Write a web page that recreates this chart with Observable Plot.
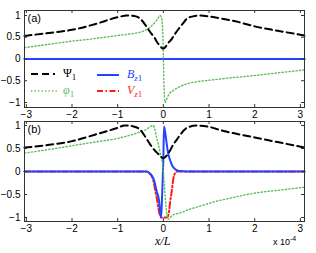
<!DOCTYPE html>
<html><head><meta charset="utf-8">
<script src="https://cdn.jsdelivr.net/npm/d3@7"></script>
<script src="https://cdn.jsdelivr.net/npm/@observablehq/plot@0.6"></script>
<style>
body{margin:0;background:#fff;}
#wrap{position:relative;width:316px;height:253px;overflow:hidden;font-family:"Liberation Sans",Arial,sans-serif;background:#fff;}
#wrap > svg{position:absolute;left:0;}
.lab{position:absolute;color:#000;white-space:nowrap;}
</style></head><body><div id="wrap"></div>
<script>
// ---- ticks ----
const xTicks = [-3, -2, -1, 0, 1, 2, 3];
const yTicks = [-1, -0.5, 0, 0.5, 1];
const yTickLabels = ["−1", "−0.5", "0", "0.5", "1"];
const xDomain = [-3.04, 3.09];

// ---- panel (a) ----
const psiA_x = [-3.04, -2.5, -2.0, -1.5, -1.0, -0.8, -0.6, -0.5, -0.36, -0.29, -0.2, -0.14, -0.07, -0.03, 0, 0.04, 0.1, 0.19, 0.27, 0.34, 0.43, 0.52, 0.65, 0.79, 1.0, 1.32, 1.6, 2.0, 2.5, 3.09];
const psiA_y = [0.53, 0.6, 0.67, 0.8, 0.96, 1.0, 0.98, 0.92, 0.73, 0.62, 0.5, 0.39, 0.3, 0.25, 0.24, 0.27, 0.36, 0.47, 0.6, 0.7, 0.82, 0.93, 0.98, 1.0, 0.98, 0.92, 0.86, 0.75, 0.65, 0.54];
const phiA_x = [-3.04, -2.5, -2.0, -1.5, -1.0, -0.7, -0.5, -0.36, -0.22, -0.14, -0.07, -0.03, 0, 0.01, 0.04, 0.08, 0.13, 0.22, 0.35, 0.52, 0.75, 1.0, 1.5, 2.0, 2.5, 3.09];
const phiA_y = [0.26, 0.34, 0.41, 0.47, 0.54, 0.58, 0.62, 0.68, 0.8, 0.9, 1.0, 0.9, 0.1, -0.5, -1.0, -0.9, -0.8, -0.72, -0.64, -0.57, -0.52, -0.49, -0.43, -0.38, -0.32, -0.25];
const bzA_x = [-3.04, 3.09];
const bzA_y = [0, 0];
const vzA_x = [-3.04, 3.09];
const vzA_y = [0, 0];

// ---- panel (b) ----
const psiB_x = [-3.04, -2.5, -2.0, -1.5, -1.0, -0.85, -0.65, -0.51, -0.4, -0.29, -0.2, -0.1, -0.04, 0, 0.05, 0.12, 0.22, 0.3, 0.37, 0.52, 0.73, 1.0, 1.32, 1.6, 2.0, 2.5, 3.09];
const psiB_y = [0.52, 0.58, 0.66, 0.8, 0.95, 1.0, 0.98, 0.91, 0.76, 0.59, 0.47, 0.37, 0.31, 0.29, 0.32, 0.41, 0.59, 0.7, 0.8, 0.95, 1.0, 0.97, 0.88, 0.82, 0.74, 0.64, 0.52];
const phiB_x = [-3.04, -2.5, -2.0, -1.5, -1.0, -0.6, -0.4, -0.22, -0.15, -0.07, 0, 0.04, 0.08, 0.11, 0.16, 0.22, 0.375, 0.55, 0.75, 1.04, 1.5, 2.07, 2.5, 3.09];
const phiB_y = [0.4, 0.48, 0.56, 0.64, 0.72, 0.83, 0.9, 1.0, 0.75, 0.41, 0, -0.55, -0.95, -1.04, -0.99, -0.94, -0.9, -0.83, -0.77, -0.68, -0.57, -0.46, -0.41, -0.34];
const bzB_x = [-3.04, -0.5, -0.36, -0.28, -0.21, -0.14, -0.1, -0.07, -0.05, -0.03, 0, 0.015, 0.04, 0.07, 0.1, 0.15, 0.2, 0.26, 0.35, 0.5, 3.09];
const bzB_y = [0, 0, 0, -0.06, -0.17, -0.45, -0.6, -0.87, -1.0, -0.6, 0.3, 0.98, 0.85, 0.63, 0.42, 0.24, 0.12, 0.05, 0.01, 0, 0];
const vzB_x = [-3.04, -0.4, -0.29, -0.21, -0.18, -0.14, -0.1, -0.08, -0.05, 0, 0.04, 0.08, 0.12, 0.15, 0.19, 0.22, 0.26, 0.3, 3.09];
const vzB_y = [0, 0, -0.05, -0.24, -0.4, -0.6, -0.85, -0.93, -1.0, -1.0, -1.0, -1.0, -0.9, -0.65, -0.38, -0.15, -0.03, 0, 0];

const cBlack = "#000", cGreen = "#5cbf55", cBlue = "#2243ff", cRed = "#ff1a1a";
const zip = (xs, ys) => xs.map((x, i) => ({x, y: ys[i]}));

function panel({top, height, mt, mb, yDomain, psi, phi, bz, vz, letter}) {
  const ml = 24, mr = 12, tl = 3;
  const ppuX = (316 - ml - mr) / (xDomain[1] - xDomain[0]);
  const ppuY = (height - mt - mb) / (yDomain[1] - yDomain[0]);
  const svg = Plot.plot({
    width: 316, height, marginLeft: ml, marginRight: mr, marginTop: mt, marginBottom: mb,
    style: {fontFamily: "Liberation Sans, Arial, sans-serif", fontSize: "10px", color: "#000", background: "transparent", overflow: "visible"},
    x: {domain: xDomain},
    y: {domain: yDomain},
    marks: [
      Plot.line(zip(...vz), {x: "x", y: "y", stroke: cRed, strokeWidth: 2, strokeDasharray: "6,2.5,1.5,2.5", curve: "monotone-x"}),
      Plot.line(zip(...bz), {x: "x", y: "y", stroke: cBlue, strokeWidth: 2, curve: "monotone-x"}),
      Plot.line(zip(...phi), {x: "x", y: "y", stroke: cGreen, strokeWidth: 1.4, strokeDasharray: "1.3,2.2", curve: "monotone-x"}),
      Plot.line(zip(...psi), {x: "x", y: "y", stroke: cBlack, strokeWidth: 2, strokeDasharray: "7,4", curve: "monotone-x"}),
      Plot.ruleX(xTicks, {x: d => d, y1: yDomain[0], y2: yDomain[0] + tl / ppuY, stroke: "#333"}),
      Plot.ruleX(xTicks, {x: d => d, y1: yDomain[1], y2: yDomain[1] - tl / ppuY, stroke: "#333"}),
      Plot.ruleY(yTicks, {y: d => d, x1: xDomain[0], x2: xDomain[0] + tl / ppuX, stroke: "#333"}),
      Plot.ruleY(yTicks, {y: d => d, x1: xDomain[1], x2: xDomain[1] - tl / ppuX, stroke: "#333"}),
      Plot.frame({stroke: "#333", strokeWidth: 1}),
      Plot.axisX(xTicks, {tickSize: 0, tickPadding: 3, label: null, tickFormat: d => d < 0 ? "−" + (-d) : String(d)}),
      Plot.axisY(yTicks, {tickSize: 0, tickPadding: 4, label: null, tickFormat: d => yTickLabels[yTicks.indexOf(d)]}),
      Plot.text([letter], {text: d => d, frameAnchor: "top-left", dx: 3, dy: 4, fontSize: 11, textAnchor: "start", lineAnchor: "top"})
    ]
  });
  svg.style.top = top + "px";
  return svg;
}

const wrap = document.getElementById("wrap");
wrap.appendChild(panel({top: 0, height: 120, mt: 10, mb: 13, yDomain: [-1.115, 1.115],
  psi: [psiA_x, psiA_y], phi: [phiA_x, phiA_y], bz: [bzA_x, bzA_y], vz: [vzA_x, vzA_y], letter: "(a)"}));
wrap.appendChild(panel({top: 118, height: 135, mt: 3, mb: 32, yDomain: [-1.087, 1.087],
  psi: [psiB_x, psiB_y], phi: [phiB_x, phiB_y], bz: [bzB_x, bzB_y], vz: [vzB_x, vzB_y], letter: "(b)"}));

// ---- legend (panel a) ----
const ns = "http://www.w3.org/2000/svg";
const leg = document.createElementNS(ns, "svg");
leg.setAttribute("width", 316); leg.setAttribute("height", 120);
leg.style.top = "0px";
leg.innerHTML = `
  <line x1="31" x2="55" y1="74" y2="74" stroke="${cBlack}" stroke-width="2" stroke-dasharray="7,4"/>
  <line x1="31" x2="57" y1="91" y2="91" stroke="${cGreen}" stroke-width="1.4" stroke-dasharray="1.3,2.2"/>
  <line x1="97" x2="119" y1="75" y2="75" stroke="${cBlue}" stroke-width="2"/>
  <line x1="97" x2="119" y1="91" y2="91" stroke="${cRed}" stroke-width="2" stroke-dasharray="6,2.5,1.5,2.5"/>
  <text x="63" y="77" font-family="Liberation Serif, serif" font-size="12" fill="#000">Ψ<tspan font-size="9" dy="3">1</tspan></text>
  <text x="63" y="94" font-family="Liberation Serif, serif" font-size="12" font-style="italic" fill="${cGreen}">φ<tspan font-size="9" dy="3" font-style="normal">1</tspan></text>
  <text x="127" y="78" font-family="Liberation Serif, serif" font-size="12" font-style="italic" fill="${cBlue}">B<tspan font-size="9" dy="3">z</tspan><tspan font-size="9" font-style="normal">1</tspan></text>
  <text x="127" y="94" font-family="Liberation Serif, serif" font-size="12" font-style="italic" fill="${cRed}">V<tspan font-size="9" dy="3">z</tspan><tspan font-size="9" font-style="normal">1</tspan></text>
`;
wrap.appendChild(leg);

// ---- axis title and exponent ----
const xl = document.createElement("div");
xl.className = "lab";
xl.style.cssText += "left:155px;top:234px;font:italic 12px 'Liberation Serif',serif;";
xl.textContent = "x/L";
wrap.appendChild(xl);
const ex = document.createElement("div");
ex.className = "lab";
ex.style.cssText += "left:273px;top:235px;font:9px 'Liberation Sans',Arial,sans-serif;";
ex.innerHTML = "x 10<sup style='font-size:7px;vertical-align:4px'>-4</sup>";
wrap.appendChild(ex);
</script></body></html>
